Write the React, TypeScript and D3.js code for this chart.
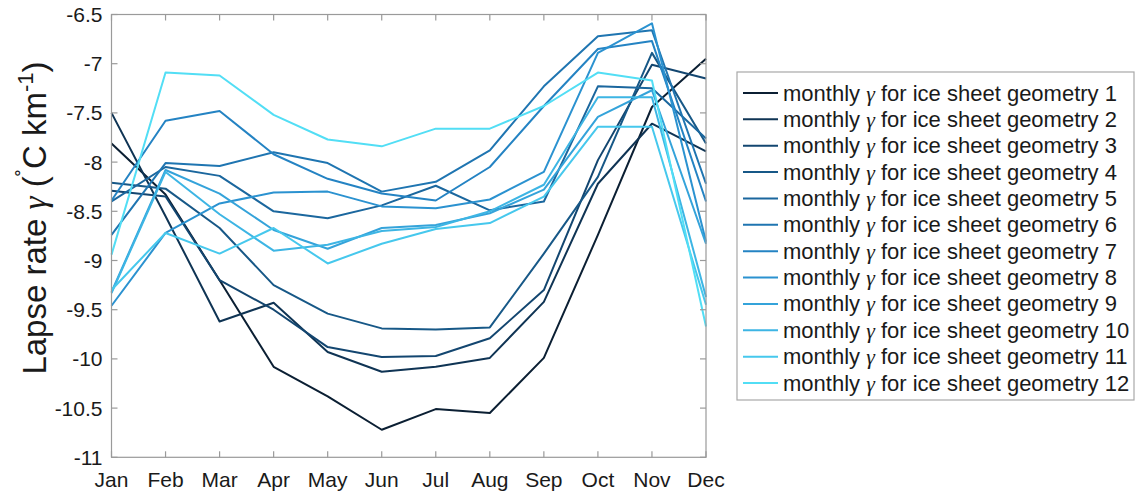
import React, { useEffect, useRef } from "react";
import * as d3 from "d3";

const months = ["Jan", "Feb", "Mar", "Apr", "May", "Jun", "Jul", "Aug", "Sep", "Oct", "Nov", "Dec"];

const geometry1 = [-7.81, -8.33, -9.2, -10.08, -10.38, -10.72, -10.51, -10.55, -9.99, -8.74, -7.44, -6.95];
const geometry2 = [-7.5, -8.55, -9.62, -9.43, -9.93, -10.13, -10.08, -9.99, -9.42, -8.22, -7.61, -7.89];
const geometry3 = [-8.29, -8.35, -9.2, -9.5, -9.88, -9.98, -9.97, -9.79, -9.3, -7.98, -7.01, -7.15];
const geometry4 = [-8.21, -8.27, -8.67, -9.25, -9.54, -9.69, -9.7, -9.68, -8.93, -8.15, -6.89, -7.81];
const geometry5 = [-8.4, -8.05, -8.14, -8.5, -8.57, -8.44, -8.24, -8.49, -8.4, -7.23, -7.25, -7.76];
const geometry6 = [-8.74, -8.01, -8.04, -7.9, -8.01, -8.3, -8.2, -7.88, -7.23, -6.72, -6.66, -8.22];
const geometry7 = [-8.39, -7.58, -7.48, -7.92, -8.17, -8.32, -8.39, -8.05, -7.43, -6.85, -6.77, -8.4];
const geometry8 = [-9.46, -8.72, -8.42, -8.31, -8.3, -8.45, -8.47, -8.38, -8.1, -6.89, -6.59, -8.81];
const geometry9 = [-9.32, -8.08, -8.32, -8.69, -8.88, -8.67, -8.64, -8.52, -8.28, -7.54, -7.27, -8.83];
const geometry10 = [-9.33, -8.1, -8.53, -8.9, -8.84, -8.7, -8.66, -8.5, -8.23, -7.34, -7.34, -9.37];
const geometry11 = [-9.3, -8.72, -8.93, -8.67, -9.03, -8.83, -8.68, -8.62, -8.35, -7.64, -7.64, -9.45];
const geometry12 = [-8.94, -7.09, -7.12, -7.52, -7.77, -7.84, -7.66, -7.66, -7.43, -7.09, -7.17, -9.67];

const seriesValues = [
  geometry1, geometry2, geometry3, geometry4, geometry5, geometry6,
  geometry7, geometry8, geometry9, geometry10, geometry11, geometry12,
];

const seriesColors = [
  "#0b1f33", "#0f3454", "#134670", "#175887", "#1b679e", "#1f75b1",
  "#2483c3", "#2b92d0", "#34a3da", "#3db5e4", "#46c8ed", "#52def5",
];

const yTicks = [-6.5, -7, -7.5, -8, -8.5, -9, -9.5, -10, -10.5, -11];
const legendPrefix = "monthly ";
const legendSymbol = "\u03b3";
const legendSuffix = " for ice sheet geometry ";

const W = 1136;
const H = 495;
const plot = { left: 111.5, right: 706, top: 14.5, bottom: 457.3 };
const FONT = "'Liberation Sans', Arial, Helvetica, sans-serif";
const SERIF = "'Liberation Serif', 'DejaVu Serif', serif";

export default function App() {
  const ref = useRef<SVGSVGElement | null>(null);

  useEffect(() => {
    const svg = d3.select(ref.current);
    svg.selectAll("*").remove();

    const x = d3.scalePoint<string>().domain(months).range([plot.left, plot.right]);
    const y = d3.scaleLinear().domain([-11, -6.5]).range([plot.bottom, plot.top]);

    svg.append("rect").attr("width", W).attr("height", H).attr("fill", "#ffffff");

    const g = svg.append("g");

    const line = d3
      .line<number>()
      .x((_, i) => x(months[i]) as number)
      .y((d) => y(d));

    seriesValues.forEach((vals, i) => {
      g.append("path")
        .attr("d", line(vals) as string)
        .attr("fill", "none")
        .attr("stroke", seriesColors[i])
        .attr("stroke-width", 2)
        .attr("stroke-linejoin", "round");
    });

    const axisColor = "#9a9a9a";
    g.append("rect")
      .attr("x", plot.left)
      .attr("y", plot.top)
      .attr("width", plot.right - plot.left)
      .attr("height", plot.bottom - plot.top)
      .attr("fill", "none")
      .attr("stroke", axisColor)
      .attr("stroke-width", 1.2);

    const tickLen = 6;
    months.forEach((m) => {
      const xx = x(m) as number;
      g.append("line").attr("x1", xx).attr("x2", xx).attr("y1", plot.bottom).attr("y2", plot.bottom - tickLen).attr("stroke", axisColor).attr("stroke-width", 1.2);
      g.append("line").attr("x1", xx).attr("x2", xx).attr("y1", plot.top).attr("y2", plot.top + tickLen).attr("stroke", axisColor).attr("stroke-width", 1.2);
      g.append("text")
        .attr("x", xx)
        .attr("y", plot.bottom + 30)
        .attr("text-anchor", "middle")
        .attr("font-family", FONT)
        .attr("font-size", 21)
        .attr("fill", "#1a1a1a")
        .text(m);
    });

    yTicks.forEach((t) => {
      const yy = y(t);
      g.append("line").attr("x1", plot.left).attr("x2", plot.left + tickLen).attr("y1", yy).attr("y2", yy).attr("stroke", axisColor).attr("stroke-width", 1.2);
      g.append("line").attr("x1", plot.right).attr("x2", plot.right - tickLen).attr("y1", yy).attr("y2", yy).attr("stroke", axisColor).attr("stroke-width", 1.2);
      g.append("text")
        .attr("x", plot.left - 9)
        .attr("y", yy + 7.5)
        .attr("text-anchor", "end")
        .attr("font-family", FONT)
        .attr("font-size", 21)
        .attr("fill", "#1a1a1a")
        .text(String(t));
    });

    const yl = g.append("text")
      .attr("transform", `translate(46, 218) rotate(-90)`)
      .attr("text-anchor", "middle")
      .attr("font-family", FONT)
      .attr("font-size", 33)
      .attr("fill", "#1a1a1a");
    yl.append("tspan").text("Lapse rate ");
    yl.append("tspan").attr("font-family", SERIF).attr("font-style", "italic").text("\u03b3");
    yl.append("tspan").text(" (");
    yl.append("tspan").attr("dy", -13).attr("font-size", 22).text("\u02da");
    yl.append("tspan").attr("dy", 13).text("C km");
    yl.append("tspan").attr("dy", -13).attr("font-size", 22).text("-1");
    yl.append("tspan").attr("dy", 13).text(")");

    const lg = { x: 737, y: 72, w: 397, h: 328 };
    g.append("rect")
      .attr("x", lg.x)
      .attr("y", lg.y)
      .attr("width", lg.w)
      .attr("height", lg.h)
      .attr("fill", "#ffffff")
      .attr("stroke", "#a8a8a8")
      .attr("stroke-width", 1.2);

    const rowY = d3.scaleLinear().domain([0, 11]).range([lg.y + 21, lg.y + 311]);
    seriesValues.forEach((_, i) => {
      const yy = rowY(i);
      g.append("line")
        .attr("x1", lg.x + 6)
        .attr("x2", lg.x + 41)
        .attr("y1", yy)
        .attr("y2", yy)
        .attr("stroke", seriesColors[i])
        .attr("stroke-width", 2);
      const t = g.append("text")
        .attr("x", lg.x + 46)
        .attr("y", yy + 7.5)
        .attr("font-family", FONT)
        .attr("font-size", 22)
        .attr("fill", "#1a1a1a");
      t.append("tspan").text(legendPrefix);
      t.append("tspan").attr("font-family", SERIF).attr("font-style", "italic").text(legendSymbol);
      t.append("tspan").text(legendSuffix + (i + 1));
    });
  }, []);

  return (
    <svg
      ref={ref}
      width={W}
      height={H}
      style={{ position: "fixed", left: 0, top: 0, display: "block" }}
    />
  );
}
